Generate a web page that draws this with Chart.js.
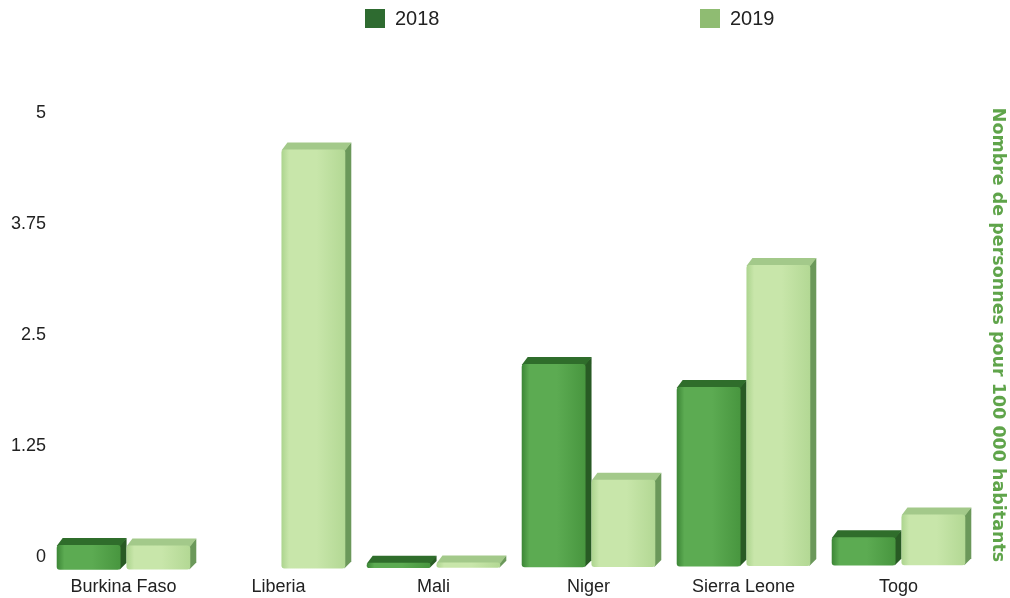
<!DOCTYPE html>
<html>
<head>
<meta charset="utf-8">
<title>Nombre de personnes pour 100 000 habitants</title>
<script src="https://cdn.jsdelivr.net/npm/chart.js@4.4.1/dist/chart.umd.min.js"></script>
<style>
  html, body { margin: 0; padding: 0; background: #fff; }
  #wrap { width: 1010px; height: 598px; }
</style>
</head>
<body>
<div id="wrap"><canvas id="barChart" width="1010" height="598"></canvas></div>
<script>
// Data
const countries = ['Burkina Faso', 'Liberia', 'Mali', 'Niger', 'Sierra Leone', 'Togo'];
const rate2018 = [0.28, 0, 0.06, 2.29, 2.02, 0.32];
const rate2019 = [0.27, 4.72, 0.06, 0.98, 3.39, 0.57];
const yTickValues = [0, 1.25, 2.5, 3.75, 5];
const yAxisTitle = 'Nombre de personnes pour 100 000 habitants';

// Shading for the extruded bars
const faces2018 = { left: '#3c8636', mid: '#5cab52', right: '#48963f', top: '#2f6d2b', side: '#285a24' };
const faces2019 = { left: '#acd48e', mid: '#c8e6aa', right: '#b3d894', top: '#a3c98a', side: '#6b985a' };

const textFont = 'Liberation Sans, Arial, sans-serif';

// Draws each bar as a small prism: front face, top and right side.
// The floor tilts a little, so bars sit lower on the left than on the right.
const bar3d = {
  id: 'bar3d',
  beforeDatasetsDraw(chart) {
    const ctx = chart.ctx;
    const area = chart.chartArea;
    const dx = 6, dy = 7;
    const bars = [];
    chart.data.datasets.forEach((ds, i) => {
      chart.getDatasetMeta(i).data.forEach((el, j) => {
        if (ds.data[j] > 0) bars.push({ el, faces: ds.faces });
      });
    });
    bars.sort((a, b) => a.el.x - b.el.x);

    bars.forEach(({ el, faces }) => {
      const half = el.width / 2;
      const x0 = el.x - half, x1 = el.x + half;
      const drop = 13 - 5 * (el.x - area.left) / (area.right - area.left);
      const yT = el.y + drop, yB = el.base + drop;
      const h = yB - yT;
      const r = Math.min(3, h / 2);

      ctx.save();
      // right side
      ctx.fillStyle = faces.side;
      ctx.beginPath();
      ctx.moveTo(x1 - 1, yT);
      ctx.lineTo(x1 + dx, yT - dy);
      ctx.lineTo(x1 + dx, yB - dy);
      ctx.lineTo(x1 - 1, yB);
      ctx.closePath();
      ctx.fill();

      // top
      ctx.fillStyle = faces.top;
      ctx.beginPath();
      ctx.moveTo(x0, yT + 1);
      ctx.lineTo(x0 + dx, yT - dy);
      ctx.lineTo(x1 + dx, yT - dy);
      ctx.lineTo(x1, yT + 1);
      ctx.closePath();
      ctx.fill();

      // front
      const grad = ctx.createLinearGradient(x0, 0, x1, 0);
      grad.addColorStop(0, faces.left);
      grad.addColorStop(0.12, faces.mid);
      grad.addColorStop(0.55, faces.mid);
      grad.addColorStop(1, faces.right);
      ctx.fillStyle = grad;
      ctx.beginPath();
      ctx.roundRect(x0, yT, x1 - x0, h, r);
      ctx.fill();
      ctx.restore();
    });
    return false;
  }
};

// Legend row at the top
const topLegend = {
  id: 'topLegend',
  afterDraw(chart) {
    const ctx = chart.ctx;
    const spots = [365, 700];
    ctx.save();
    ctx.font = '20px ' + textFont;
    ctx.textBaseline = 'middle';
    ctx.textAlign = 'left';
    chart.data.datasets.forEach((ds, i) => {
      ctx.fillStyle = ds.legendColor;
      ctx.fillRect(spots[i], 9, 20, 19);
      ctx.fillStyle = '#222';
      ctx.fillText(ds.label, spots[i] + 30, 19);
    });
    ctx.restore();
  }
};

new Chart(document.getElementById('barChart'), {
  type: 'bar',
  data: {
    labels: countries,
    datasets: [
      { label: '2018', data: rate2018, faces: faces2018, legendColor: '#2e6b30', backgroundColor: '#2e6b30' },
      { label: '2019', data: rate2019, faces: faces2019, legendColor: '#8fbc72', backgroundColor: '#8fbc72' }
    ]
  },
  options: {
    responsive: false,
    devicePixelRatio: 1,
    animation: false,
    categoryPercentage: 0.9,
    barPercentage: 0.915,
    layout: { padding: { top: 113, left: 0, right: 0, bottom: 0 } },
    plugins: {
      legend: { display: false },
      tooltip: { enabled: false }
    },
    scales: {
      x: {
        grid: { display: false, drawTicks: false },
        border: { display: false },
        ticks: { color: '#222', font: { family: textFont, size: 18 }, padding: 19, maxRotation: 0 },
        afterFit(scale) { scale.height = 41; }
      },
      y: {
        min: 0,
        max: 5,
        grid: { display: false, drawTicks: false },
        border: { display: false },
        afterBuildTicks(scale) { scale.ticks = yTickValues.map(v => ({ value: v })); },
        ticks: {
          color: '#222',
          font: { family: textFont, size: 18 },
          padding: 0,
          callback: v => String(v)
        },
        afterFit(scale) { scale.width = 46; }
      },
      yTitle: {
        position: 'right',
        min: 0,
        max: 5,
        grid: { display: false, drawTicks: false },
        border: { display: false },
        ticks: { display: false },
        title: {
          display: true,
          text: yAxisTitle,
          color: '#5fa44a',
          font: { family: 'DejaVu Sans', size: 17.5, weight: 'bold' },
          padding: { top: 2, bottom: 0 }
        },
        afterFit(scale) { scale.width = 34; }
      }
    }
  },
  plugins: [bar3d, topLegend]
});
</script>
</body>
</html>
